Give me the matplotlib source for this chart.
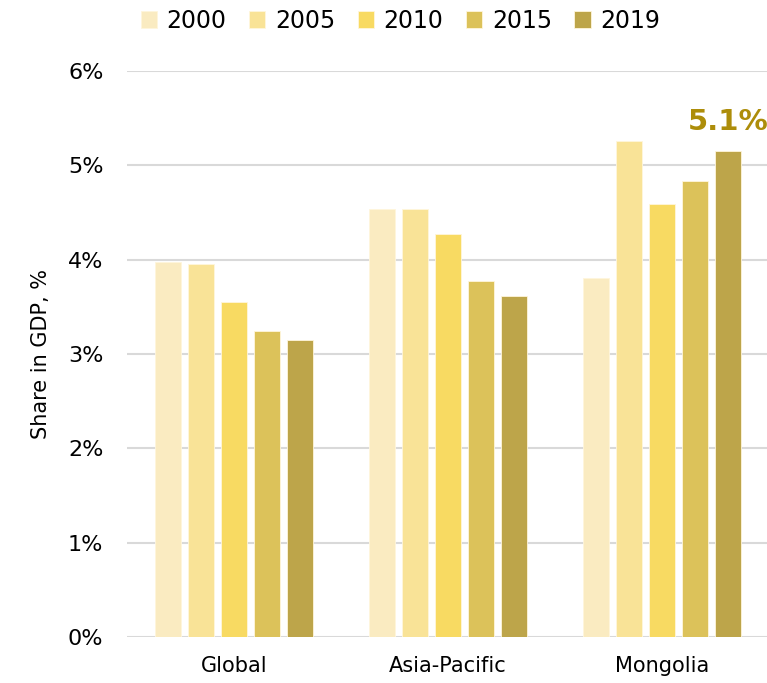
import matplotlib
matplotlib.use("Agg")
import matplotlib.pyplot as plt
import numpy as np

categories = ["Global", "Asia-Pacific", "Mongolia"]
years = ["2000", "2005", "2010", "2015", "2019"]
values = {
    "2000": [3.97, 4.54, 3.80],
    "2005": [3.95, 4.54, 5.26],
    "2010": [3.55, 4.27, 4.59],
    "2015": [3.24, 3.77, 4.83],
    "2019": [3.15, 3.61, 5.15],
}
colors = ["#FAEBC1", "#F9E397", "#F8DA62", "#DCC25A", "#BDA54A"]
annot_text = "5.1%"
annot_color = "#AD8D0A"

plt.rcParams['font.family'] = ['DejaVu Sans']

fig = plt.figure(figsize=(7.67, 6.83), dpi=100)
ax = fig.add_axes([0.1656, 0.0673, 0.837, 0.829])

x = np.arange(len(categories))
pitch = 0.154
width = 0.122
bars = []
for i, (yr, c) in enumerate(zip(years, colors)):
    b = ax.bar(x + (i - 2) * pitch, values[yr], width, color=c,
               edgecolor="#FFF6DC", linewidth=0.6, label=yr, zorder=3)
    bars.append(b)

# annotation on Mongolia 2019
ax.annotate(annot_text, xy=(x[2] + 2 * pitch, values["2019"][2]),
            xytext=(0, 11), textcoords="offset points", ha="center", va="bottom",
            fontsize=21, fontweight="bold", color=annot_color, zorder=5,
            annotation_clip=False)

ax.set_xlim(-0.5, 2.5)
ax.set_ylim(0, 6)
ax.set_yticks(range(0, 7))
ax.set_yticklabels([f"{v}%" for v in range(0, 7)], fontsize=16)
ax.set_xticks(x)
ax.set_xticklabels(categories, fontsize=15)
ax.tick_params(axis="x", length=0, pad=14)
ax.tick_params(axis="y", length=0, pad=17)
ax.grid(axis="y", color="#D9D9D9", linewidth=1.5, zorder=0)
ax.set_axisbelow(True)
for s in ax.spines.values():
    s.set_visible(False)
ax.set_ylabel("Share in GDP, %", fontsize=15, labelpad=12)

fig.legend(handles=[b for b in bars], labels=years, loc="upper center",
           bbox_to_anchor=(0.522, 1.018), ncol=5, frameon=False, fontsize=17,
           handlelength=0.7, handleheight=0.7, handletextpad=0.4,
           columnspacing=0.95)

fig.savefig("out.png", dpi=100)
